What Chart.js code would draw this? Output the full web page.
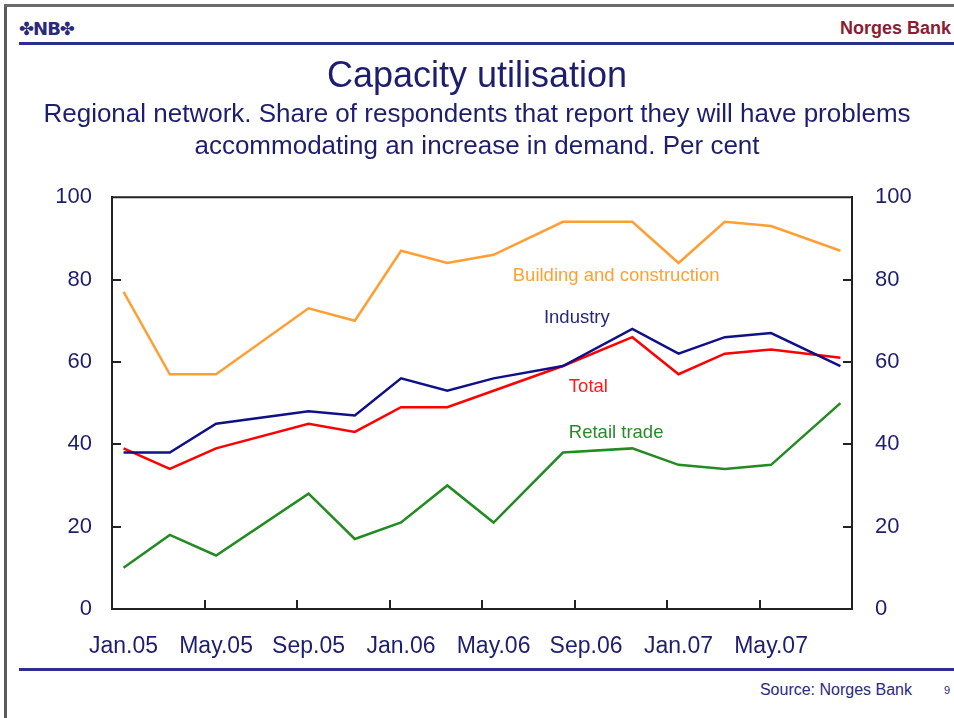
<!DOCTYPE html>
<html>
<head>
<meta charset="utf-8">
<title>Capacity utilisation</title>
<script src="https://cdn.jsdelivr.net/npm/chart.js@4.4.1/dist/chart.umd.min.js"></script>
<style>
 body { margin: 0; width: 954px; height: 718px; overflow: hidden; background: #fff; font-family: 'Liberation Sans', Arial, sans-serif; }
 .bar { position: absolute; }
 #frameLeft { left: 4px; top: 4px; width: 3px; height: 714px; background: #5a5a5a; }
 #frameTop { left: 4px; top: 4px; width: 950px; height: 3px; background: #6a6a6a; }
 #headLine { left: 19px; top: 42px; width: 935px; height: 3px; background: #2d2d8c; }
 #footLine { left: 19px; top: 668px; width: 935px; height: 3px; background: #2d2d8c; }
 #logo { position: absolute; left: 19px; top: 18px; font: bold 18px 'DejaVu Sans', sans-serif; color: #2a2a7c; letter-spacing: -1px; }
 #bankName { position: absolute; right: 3px; top: 18px; font: bold 18px 'Liberation Sans', Arial, sans-serif; color: #8c1c32; }
 #source { position: absolute; right: 42px; top: 681px; font: 16px 'Liberation Sans', Arial, sans-serif; color: #2a2a7e; }
 #pageNo { position: absolute; right: 4px; top: 684px; font: 11px 'Liberation Sans', Arial, sans-serif; color: #2a2a7e; }
 #chartCanvas { position: absolute; left: 0; top: 0; }
</style>
</head>
<body>
<div class="bar" id="frameLeft"></div>
<div class="bar" id="frameTop"></div>
<div class="bar" id="headLine"></div>
<div class="bar" id="footLine"></div>
<div id="logo">✤NB✤</div>
<div id="bankName">Norges Bank</div>
<div id="source">Source: Norges Bank</div>
<div id="pageNo">9</div>
<canvas id="chartCanvas" width="954" height="718"></canvas>
<script>
'use strict';

// every month on the axis, Jan.05 - Aug.07
const allMonths = [
 'Jan.05', 'Feb.05', 'Mar.05', 'Apr.05', 'May.05', 'Jun.05', 'Jul.05', 'Aug.05',
 'Sep.05', 'Oct.05', 'Nov.05', 'Dec.05', 'Jan.06', 'Feb.06', 'Mar.06', 'Apr.06',
 'May.06', 'Jun.06', 'Jul.06', 'Aug.06', 'Sep.06', 'Oct.06', 'Nov.06', 'Dec.06',
 'Jan.07', 'Feb.07', 'Mar.07', 'Apr.07', 'May.07', 'Jun.07', 'Jul.07', 'Aug.07'
]

// months with a survey round
const surveyMonths = [
 'Jan.05', 'Mar.05', 'May.05', 'Sep.05', 'Nov.05', 'Jan.06', 'Mar.06',
 'May.06', 'Aug.06', 'Nov.06', 'Jan.07', 'Mar.07', 'May.07', 'Aug.07'
]

// series values, per cent
const buildingValues = [77, 57, 57, 73, 70, 87, 84, 86, 94, 94, 84, 94, 93, 87]
const industryValues = [38, 38, 45, 48, 47, 56, 53, 56, 59, 68, 62, 66, 67, 59]
const totalValues = [39, 34, 39, 45, 43, 49, 49, 53, 59, 66, 57, 62, 63, 61]
const retailValues = [10, 18, 13, 28, 17, 21, 30, 21, 38, 39, 35, 34, 35, 50]

// y tick values
const yTicks = [0, 20, 40, 60, 80, 100]

// labelled months on the x axis
const labelPrefixes = ['Jan', 'May', 'Sep']

const axisColor = '#222222'
const textColor = '#1e1e70'
const fontFamily = "'Liberation Sans', Arial, sans-serif"

Chart.defaults.font.family = fontFamily

/**
 * Pair survey months with values for the category axis
 */
const toPoints = (values) => surveyMonths.map((m, i) => ({ x: m, y: values[i] }))

const isLabelled = (label) => labelPrefixes.some(p => label.startsWith(p))

// series name text placed inside the plot, in axis units
const seriesLabels = [
 { text: 'Building and construction', month: 21.3, value: 81, color: '#ffa033' },
 { text: 'Industry', month: 19.6, value: 70.6, color: '#26267e' },
 { text: 'Total', month: 20.1, value: 54, color: '#ff1a1a' },
 { text: 'Retail trade', month: 21.3, value: 42.7, color: '#2a8a2a' }
]

/**
 * Plugin: top frame line, inward tick marks and series names
 */
const frameDecor = {
 id: 'frameDecor',
 afterDraw(chart) {
  const { ctx, chartArea: a, scales: { x, y } } = chart
  const step = x.getPixelForValue(1) - x.getPixelForValue(0)
  ctx.save()
  ctx.strokeStyle = axisColor
  ctx.lineWidth = 2
  ctx.beginPath()
  ctx.moveTo(a.left - 1, a.top)
  ctx.lineTo(a.right + 1, a.top)
  allMonths.forEach((m, i) => {
   if (i > 0 && isLabelled(m)) {
    const px = Math.round(x.getPixelForValue(i) - step / 2)
    ctx.moveTo(px, a.bottom)
    ctx.lineTo(px, a.bottom - 9)
   }
  })
  yTicks.slice(1, -1).forEach(v => {
   const py = Math.round(y.getPixelForValue(v))
   ctx.moveTo(a.left, py)
   ctx.lineTo(a.left + 9, py)
   ctx.moveTo(a.right, py)
   ctx.lineTo(a.right - 9, py)
  })
  ctx.stroke()

  ctx.font = '18.5px ' + fontFamily
  ctx.textAlign = 'center'
  ctx.textBaseline = 'middle'
  seriesLabels.forEach(l => {
   ctx.fillStyle = l.color
   ctx.fillText(l.text, x.getPixelForValue(l.month), y.getPixelForValue(l.value))
  })
  ctx.restore()
 }
}

const makeLine = (label, values, color) => ({
 label: label,
 data: toPoints(values),
 borderColor: color,
 backgroundColor: color,
 borderWidth: 2.5,
 pointRadius: 0,
 tension: 0,
 yAxisID: 'y'
})

const config = {
 type: 'line',
 data: {
  labels: allMonths,
  datasets: [
   makeLine('Building and construction', buildingValues, '#ff9f33'),
   makeLine('Industry', industryValues, '#101088'),
   makeLine('Total', totalValues, '#ff0000'),
   makeLine('Retail trade', retailValues, '#228b22')
  ]
 },
 options: {
  responsive: false,
  animation: false,
  devicePixelRatio: 1,
  layout: { padding: 0 },
  plugins: {
   legend: { display: false },
   tooltip: { enabled: false },
   title: {
    display: true,
    text: 'Capacity utilisation',
    color: textColor,
    font: { size: 36, weight: 'normal', lineHeight: 1.2 },
    padding: { top: 55, bottom: 0 }
   },
   subtitle: {
    display: true,
    text: ['Regional network. Share of respondents that report they will have problems',
     'accommodating an increase in demand. Per cent'],
    color: textColor,
    font: { size: 26, lineHeight: 1.23 },
    padding: { top: 1, bottom: 34 }
   }
  },
  scales: {
   x: {
    type: 'category',
    offset: true,
    grid: { display: false, drawTicks: false },
    border: { display: true, color: axisColor, width: 2 },
    ticks: {
     autoSkip: false,
     maxRotation: 0,
     color: textColor,
     font: { size: 23 },
     padding: 24,
     callback: function (value) {
      const label = this.getLabelForValue(value)
      return isLabelled(label) ? label : ''
     }
    },
    afterFit: (scale) => { scale.height = 109 }
   },
   y: {
    position: 'left',
    min: 0,
    max: 100,
    grid: { display: false, drawTicks: false },
    border: { display: true, color: axisColor, width: 2 },
    ticks: { stepSize: 20, color: textColor, font: { size: 22 }, padding: 20 },
    afterFit: (scale) => { scale.width = 112 }
   },
   y2: {
    position: 'right',
    min: 0,
    max: 100,
    grid: { display: false, drawTicks: false },
    border: { display: true, color: axisColor, width: 2 },
    ticks: { stepSize: 20, color: textColor, font: { size: 22 }, padding: 23 },
    afterFit: (scale) => { scale.width = 102 }
   }
  }
 },
 plugins: [frameDecor]
}

document.addEventListener('DOMContentLoaded', () => {
 new Chart(document.getElementById('chartCanvas'), config)
})
</script>
</body>
</html>
